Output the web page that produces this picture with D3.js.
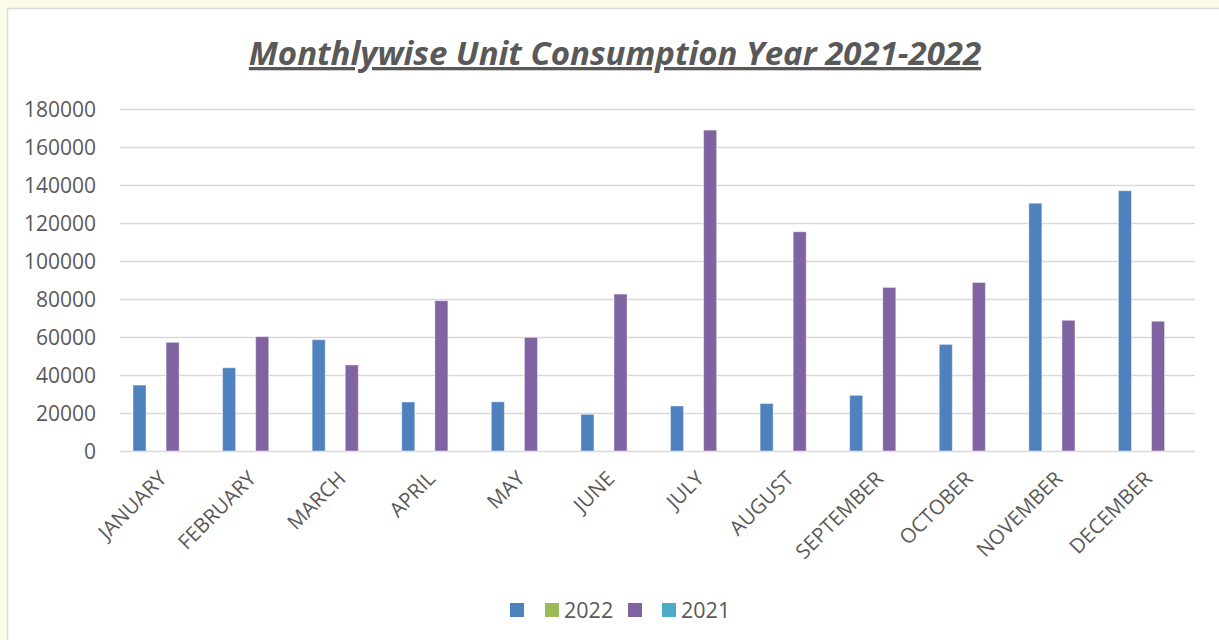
<!DOCTYPE html>
<html>
<head>
<meta charset="utf-8">
<script src="https://cdn.jsdelivr.net/npm/d3@7"></script>
<style>
  body { margin: 0; background: #fbfbe7; overflow: hidden; }
  text { font-family: "Open Sans", "Liberation Sans", sans-serif; fill: #595959; }
</style>
</head>
<body>
<script>
var months = ["JANUARY","FEBRUARY","MARCH","APRIL","MAY","JUNE","JULY","AUGUST","SEPTEMBER","OCTOBER","NOVEMBER","DECEMBER"];
var seriesNames = ["", "2022", "", "2021"];
var seriesColors = ["#4f81bd", "#9bbb59", "#8064a2", "#4bacc6"];
var blueValues   = [34700, 43800, 58600, 25800, 25900, 19300, 23700, 25000, 29300, 56100, 130400, 137000];
var greenValues  = [null, null, null, null, null, null, null, null, null, null, null, null];
var purpleValues = [57200, 60200, 45300, 79100, 59800, 82600, 168900, 115400, 86100, 88700, 68800, 68300];
var tealValues   = [null, null, null, null, null, null, null, null, null, null, null, null];
var yTicks = [0, 20000, 40000, 60000, 80000, 100000, 120000, 140000, 160000, 180000];

var allSeries = [blueValues, greenValues, purpleValues, tealValues];

var svg = d3.select("body").append("svg").attr("width", 1219).attr("height", 640);

// chart panel (runs past the right and bottom edge, only top/left border visible)
svg.append("rect")
  .attr("x", 8).attr("y", 9)
  .attr("width", 1211).attr("height", 631)
  .attr("fill", "white");
svg.append("path")
  .attr("d", "M7.5,640V8.5H1219")
  .attr("fill", "none")
  .attr("stroke", "#d9d9d9")
  .attr("stroke-width", 1.5);

// title
svg.append("text")
  .attr("x", 615).attr("y", 65)
  .attr("text-anchor", "middle")
  .style("font-size", "33px")
  .style("font-weight", "bold")
  .style("font-style", "italic")
  .style("text-decoration", "underline")
  .text("Monthlywise Unit Consumption Year 2021-2022");

const margin = {left: 120, top: 109};
const innerWidth = 1075;
const innerHeight = 342;

const g = svg.append("g").attr("transform", `translate(${margin.left},${margin.top})`);

const x0 = d3.scaleBand().domain(months).range([0, innerWidth]).padding(0);
const bw = x0.bandwidth();
const x1 = d3.scaleBand().domain(d3.range(4))
  .range([bw * 0.145, bw * 0.145 + bw * 0.70]).paddingInner(0.21).paddingOuter(0);
const y = d3.scaleLinear().domain([0, 180000]).range([innerHeight, 0]);

// gridlines + y labels
const yAxis = d3.axisLeft(y).tickValues(yTicks).tickSize(-innerWidth).tickFormat(d3.format("d"));
const yAxisG = g.append("g").call(yAxis);
yAxisG.select(".domain").remove();
yAxisG.selectAll("line").attr("stroke", "#d9d9d9").attr("stroke-width", 1.6);
yAxisG.selectAll("text").style("font-size", "21px").attr("fill", "#595959").attr("x", -24).attr("dy", "0.35em");

// bars
const groups = g.selectAll(".month").data(months).enter().append("g")
  .attr("transform", d => `translate(${x0(d)},0)`);

groups.selectAll("rect")
  .data((m, i) => allSeries.map((s, k) => ({k: k, v: s[i]})).filter(d => d.v != null))
  .enter().append("rect")
  .attr("x", d => x1(d.k))
  .attr("width", x1.bandwidth())
  .attr("y", d => y(d.v))
  .attr("height", d => innerHeight - y(d.v))
  .attr("fill", d => seriesColors[d.k])
  .attr("stroke", "rgba(255,255,255,0.45)")
  .attr("stroke-width", 1);

// x labels
const xAxis = d3.axisBottom(x0).tickSize(0).tickPadding(0);
const xAxisG = g.append("g").attr("transform", `translate(0,${innerHeight})`).call(xAxis);
xAxisG.select(".domain").remove();
xAxisG.selectAll("text")
  .style("font-size", "20.5px")
  .attr("fill", "#595959")
  .style("text-anchor", "end")
  .attr("y", 0)
  .attr("dy", 0)
  .attr("transform", "translate(3,29) rotate(-45)");

// legend
const legendX = [510, 545, 628, 662];
const legend = svg.append("g");
seriesNames.forEach(function (name, k) {
  legend.append("rect")
    .attr("x", legendX[k]).attr("y", 603)
    .attr("width", 14).attr("height", 14)
    .attr("fill", seriesColors[k]);
  legend.append("text")
    .attr("x", legendX[k] + 19).attr("y", 618)
    .style("font-size", "21.5px")
    .text(name);
});
</script>
</body>
</html>
